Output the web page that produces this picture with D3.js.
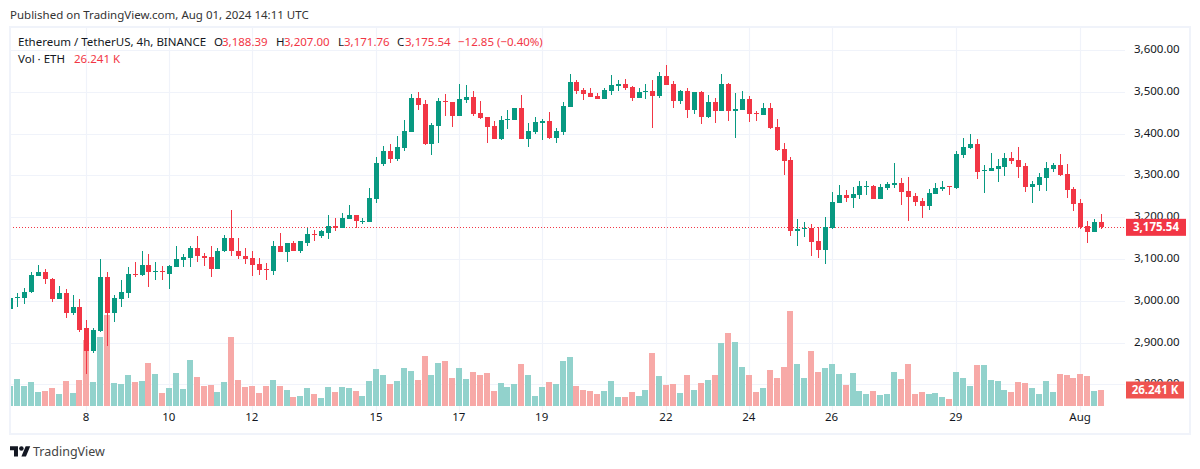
<!DOCTYPE html>
<html>
<head>
<meta charset="utf-8">
<script src="https://cdn.jsdelivr.net/npm/d3@7"></script>
<style>
  html, body { margin: 0; padding: 0; background: #fff; overflow: hidden; }
  text { font-family: "Noto Sans", sans-serif; }
</style>
</head>
<body>
<div id="chart"></div>
<script>
const openPrices = [
  2979,3006,3006,3020,3058,3068,3053,3003,3018,2970,
  2986,2934,2879,2927,3056,2970,3003,3018,3065,3061,
  3085,3068,3070,3065,3080,3097,3101,3125,3108,3104,
  3077,3118,3149,3120,3108,3101,3087,3075,3070,3132,
  3116,3137,3120,3139,3159,3154,3163,3178,3173,3195,
  3204,3188,3188,3243,3327,3358,3339,3365,3403,3485,
  3470,3375,3418,3478,3475,3442,3480,3487,3449,3439,
  3418,3387,3432,3432,3461,3387,3403,3425,3430,3389,
  3403,3463,3523,3504,3497,3490,3482,3501,3513,3518,
  3511,3485,3499,3501,3490,3537,3518,3478,3501,3456,
  3499,3439,3475,3454,3518,3454,3456,3482,3449,3444,
  3461,3415,3363,3336,3167,3171,3174,3143,3121,3174,
  3233,3253,3246,3253,3272,3275,3244,3270,3277,3282,
  3263,3251,3239,3227,3256,3268,3274,3270,3349,3365,
  3375,3310,3310,3315,3320,3341,3337,3322,3272,3277,
  3294,3315,3325,3303,3268,3234,3179,3165,3188.39
];
const closePrices = [
  3006,3008,3022,3061,3068,3051,3003,3018,2970,2986,
  2931,2879,2929,3056,2970,3006,3020,3065,3061,3085,
  3068,3070,3068,3082,3099,3104,3125,3106,3101,3077,
  3120,3149,3118,3106,3099,3085,3073,3073,3132,3116,
  3137,3120,3142,3159,3157,3166,3178,3173,3197,3204,
  3190,3191,3245,3329,3358,3339,3367,3406,3485,3468,
  3375,3420,3477,3475,3442,3482,3487,3446,3437,3415,
  3387,3432,3434,3461,3387,3406,3427,3430,3389,3406,
  3466,3523,3501,3494,3487,3482,3504,3516,3518,3509,
  3485,3499,3501,3490,3537,3516,3478,3501,3456,3499,
  3439,3475,3454,3518,3454,3458,3482,3446,3446,3461,
  3413,3360,3334,3167,3171,3174,3140,3121,3176,3236,
  3253,3245,3256,3275,3275,3244,3272,3280,3282,3260,
  3249,3237,3227,3258,3270,3272,3271,3351,3368,3375,
  3308,3313,3318,3322,3341,3334,3320,3272,3280,3296,
  3318,3325,3301,3265,3232,3177,3165,3189,3175.54
];
const highPrices = [
  3018,3018,3031,3068,3085,3075,3054,3034,3027,3013,
  3003,2953,2934,3099,3068,3013,3049,3080,3092,3118,
  3111,3092,3082,3085,3132,3111,3132,3154,3113,3132,
  3125,3158,3218,3151,3125,3120,3101,3089,3142,3161,
  3137,3142,3144,3173,3168,3168,3204,3197,3209,3228,
  3206,3198,3269,3344,3370,3375,3394,3432,3494,3499,
  3480,3425,3485,3494,3475,3518,3516,3501,3477,3439,
  3430,3442,3456,3461,3492,3425,3439,3434,3451,3413,
  3475,3542,3528,3509,3509,3497,3509,3540,3528,3530,
  3513,3509,3518,3528,3547,3564,3525,3504,3509,3499,
  3501,3492,3485,3542,3521,3497,3501,3490,3454,3473,
  3473,3434,3377,3344,3195,3188,3183,3176,3200,3260,
  3277,3265,3272,3287,3287,3277,3279,3284,3329,3294,
  3296,3258,3246,3268,3282,3287,3275,3358,3389,3399,
  3387,3325,3353,3339,3353,3356,3368,3329,3287,3306,
  3332,3330,3351,3327,3272,3244,3191,3196,3207
];
const lowPrices = [
  2963,2986,2991,3018,3058,3041,2996,3003,2958,2965,
  2924,2824,2876,2924,2891,2948,2984,3006,3056,3058,
  3032,3049,3049,3027,3080,3080,3080,3092,3082,3056,
  3075,3116,3106,3099,3087,3058,3061,3049,3061,3116,
  3092,3120,3115,3130,3142,3149,3147,3166,3173,3195,
  3175,3183,3188,3233,3322,3329,3334,3358,3403,3456,
  3372,3348,3377,3442,3415,3442,3473,3442,3434,3377,
  3387,3384,3410,3432,3387,3367,3399,3384,3387,3377,
  3396,3463,3494,3480,3487,3482,3482,3492,3501,3504,
  3477,3485,3482,3413,3485,3516,3461,3470,3437,3446,
  3422,3437,3425,3454,3430,3389,3456,3427,3430,3444,
  3410,3358,3300,3155,3131,3152,3107,3102,3088,3171,
  3233,3236,3222,3244,3253,3244,3244,3265,3270,3229,
  3191,3227,3198,3217,3256,3263,3253,3268,3341,3363,
  3291,3258,3310,3284,3298,3327,3294,3260,3234,3263,
  3263,3308,3298,3246,3215,3172,3139,3165,3171.76
];
const volumes = [
  32.8,44.3,32.8,39.4,23.0,24.6,29.5,19.7,41.0,21.3,
  42.6,108.2,39.4,113.2,149.2,37.7,36.1,50.8,39.4,41.0,
  70.5,52.5,21.3,29.5,54.1,27.9,75.4,47.6,32.8,34.4,
  23.0,39.4,113.2,42.6,31.2,32.8,21.3,32.8,42.6,32.8,
  26.2,14.8,16.4,29.5,19.7,13.1,31.2,23.0,31.2,29.5,
  24.6,16.4,41.0,60.7,50.8,36.1,41.0,62.3,57.4,42.6,
  82.0,50.8,70.5,73.8,45.9,62.3,44.3,55.8,50.8,54.1,
  24.6,37.7,31.2,36.1,68.9,50.8,16.4,31.2,39.4,36.1,
  73.8,80.4,32.8,26.2,24.6,19.7,24.6,41.0,14.8,14.8,
  23.0,16.4,26.2,86.9,49.2,34.4,36.1,21.3,50.8,26.2,
  37.7,42.6,50.8,103.3,119.7,105.0,64.0,50.8,23.0,29.5,
  59.0,45.9,64.0,155.8,68.9,45.9,90.2,55.8,62.3,68.9,
  52.5,34.4,54.1,24.6,19.7,24.6,18.0,19.7,55.8,44.3,
  68.9,19.7,23.0,19.7,21.3,14.8,11.5,55.8,45.9,32.8,
  67.2,67.2,42.6,41.0,26.2,23.0,39.4,37.7,29.5,19.7,
  41.0,23.0,52.5,50.8,45.9,52.5,49.2,24.6,26.241
];
const dateTicks = [11, 23, 35, 53, 65, 77, 95, 107, 119, 137, 155];
const dateLabels = ["8", "10", "12", "15", "17", "19", "22", "24", "26", "29", "Aug"];
const priceTicks = [2800, 2900, 3000, 3100, 3200, 3300, 3400, 3500, 3600];
const lastPrice = 3175.54;
const lastVolume = 26.241;

const W = 1200, H = 469;
const up = "#089981", down = "#f23645";
const volUp = "#92d2cc", volDown = "#f7a9a7";
const gridColor = "#f0f3fa", textColor = "#131722";
const plotLeft = 10, plotRight = 1125, plotTop = 27, plotBottom = 412;
const fontSize = 11.5;

const svg = d3.select("#chart").append("svg")
    .attr("width", W)
    .attr("height", H)
    .style("display", "block");

const x = d3.scaleLinear().domain([0, 155]).range([10.4, 1080.4]);
const y = d3.scaleLinear().domain([2800, 3600]).range([384.3, 49.9]);
const yVol = d3.scaleLinear().domain([0, 160]).range([406, 308.4]);

const idx = d3.range(openPrices.length);
const isUp = i => closePrices[i] >= openPrices[i];

// grid
const xAxis = d3.axisBottom(x)
    .tickValues(dateTicks)
    .tickFormat((d, i) => dateLabels[i])
    .tickSize(0)
    .tickPadding(0);

const yAxis = d3.axisRight(y)
    .tickValues(priceTicks)
    .tickFormat(d3.format(",.2f"))
    .tickSize(0)
    .tickPadding(0);

svg.append("g")
    .selectAll("line")
    .data(dateTicks)
    .join("line")
    .attr("x1", d => Math.round(x(d)) + 0.5)
    .attr("x2", d => Math.round(x(d)) + 0.5)
    .attr("y1", plotTop)
    .attr("y2", plotBottom)
    .attr("stroke", gridColor)
    .attr("stroke-width", 1.2);

svg.append("g")
    .selectAll("line")
    .data(priceTicks)
    .join("line")
    .attr("x1", plotLeft)
    .attr("x2", plotRight)
    .attr("y1", d => Math.round(y(d)) + 0.5)
    .attr("y2", d => Math.round(y(d)) + 0.5)
    .attr("stroke", gridColor)
    .attr("stroke-width", 1.2);

svg.append("clipPath").attr("id", "plot")
    .append("rect")
    .attr("x", plotLeft)
    .attr("y", plotTop)
    .attr("width", plotRight - plotLeft)
    .attr("height", plotBottom - plotTop);

const plot = svg.append("g").attr("clip-path", "url(#plot)");

// volume under the candles
plot.append("g")
    .selectAll("rect")
    .data(idx)
    .join("rect")
    .attr("x", i => Math.round(x(i)) - 3)
    .attr("width", 6)
    .attr("y", i => yVol(volumes[i]))
    .attr("height", i => yVol(0) - yVol(volumes[i]))
    .attr("fill", i => isUp(i) ? volUp : volDown)
    .attr("shape-rendering", "crispEdges");

// last price line
plot.append("line")
    .attr("x1", plotLeft)
    .attr("x2", plotRight)
    .attr("y1", Math.floor(y(lastPrice)) + 0.5)
    .attr("y2", Math.floor(y(lastPrice)) + 0.5)
    .attr("stroke", down)
    .attr("stroke-width", 1)
    .attr("stroke-dasharray", "1,2");

// candles
const candles = plot.append("g");

candles.selectAll(".wick")
    .data(idx)
    .join("rect")
    .attr("class", "wick")
    .attr("x", i => Math.round(x(i)))
    .attr("width", 1)
    .attr("y", i => y(highPrices[i]))
    .attr("height", i => y(lowPrices[i]) - y(highPrices[i]))
    .attr("fill", i => isUp(i) ? up : down)
    .attr("shape-rendering", "crispEdges");

candles.selectAll(".body")
    .data(idx)
    .join("rect")
    .attr("class", "body")
    .attr("x", i => Math.round(x(i)) - 2)
    .attr("width", 5)
    .attr("y", i => y(Math.max(openPrices[i], closePrices[i])))
    .attr("height", i => Math.max(1, Math.abs(y(openPrices[i]) - y(closePrices[i]))))
    .attr("fill", i => isUp(i) ? up : down)
    .attr("shape-rendering", "crispEdges");

// frame
svg.append("rect")
    .attr("x", 10)
    .attr("y", 27)
    .attr("width", 1180)
    .attr("height", 407)
    .attr("fill", "none")
    .attr("stroke", gridColor)
    .attr("stroke-width", 2);

// axes
svg.append("g")
    .attr("transform", `translate(-0.8,413)`)
    .call(xAxis)
    .call(g => g.select(".domain").remove())
    .selectAll("text")
    .attr("font-size", fontSize)
    .attr("font-family", null)
    .attr("fill", textColor);

svg.append("g")
    .attr("transform", `translate(1134,-1)`)
    .call(yAxis)
    .call(g => g.select(".domain").remove())
    .selectAll("text")
    .attr("font-size", fontSize)
    .attr("font-family", null)
    .attr("fill", textColor);

// last value labels
function valueLabel(cy, w, fill, txt) {
    svg.append("rect")
        .attr("x", 1126)
        .attr("y", cy - 8.5)
        .attr("width", w)
        .attr("height", 17)
        .attr("fill", fill);
    svg.append("text")
        .attr("x", 1126 + w / 2)
        .attr("y", cy + 4)
        .attr("text-anchor", "middle")
        .attr("font-size", fontSize)
        .attr("font-weight", 700)
        .attr("fill", "white")
        .text(txt);
}
valueLabel(y(lastPrice), 60, down, d3.format(",.2f")(lastPrice));
valueLabel(yVol(lastVolume), 58, "#ef5350", lastVolume + " K");

// legend
function label(px, py, txt, fill) {
    svg.append("text")
        .attr("x", px)
        .attr("y", py)
        .attr("font-size", fontSize)
        .attr("fill", fill)
        .text(txt);
}
label(10, 19, "Published on TradingView.com, Aug 01, 2024 14:11 UTC", "#333");
label(18, 46, "Ethereum / TetherUS, 4h, BINANCE", textColor);
label(214, 46, "O", textColor);
label(222, 46, "3,188.39", down);
label(276, 46, "H", textColor);
label(284, 46, "3,207.00", down);
label(338, 46, "L", textColor);
label(344, 46, "3,171.76", down);
label(397, 46, "C", textColor);
label(405, 46, "3,175.54", down);
label(458, 46, "\u221212.85 (\u22120.40%)", down);
label(18, 63, "Vol \u00b7 ETH", textColor);
label(74, 63, "26.241 K", down);

// logo
const logo = svg.append("g")
    .attr("transform", "translate(10,444) scale(0.57)")
    .attr("fill", "#131722");
logo.append("path").attr("d", "M14 22H7V11H0V4h14v18zM28 22h-8l7.5-18h8L28 22z");
logo.append("circle").attr("cx", 20).attr("cy", 8).attr("r", 4);

svg.append("text")
    .attr("x", 33)
    .attr("y", 456)
    .attr("font-size", 12.5)
    .attr("fill", "#444")
    .text("TradingView");
</script>
</body>
</html>
